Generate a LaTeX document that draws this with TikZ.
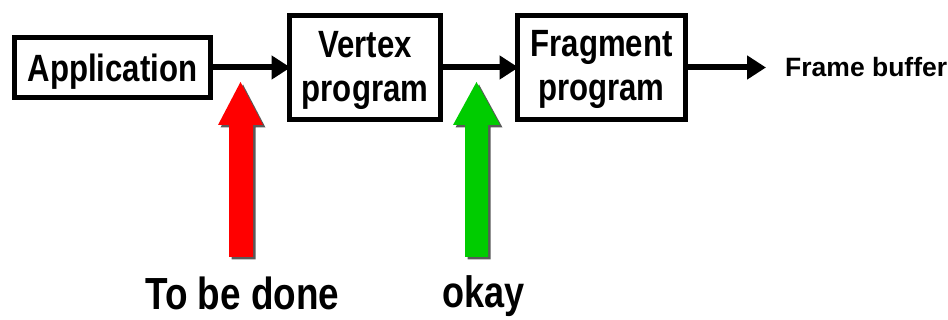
\documentclass[tikz,border=0pt]{standalone}
\usepackage{fontspec}
\setmainfont{Liberation Sans}[FakeStretch=0.82]
\newfontfamily\fbfont{Liberation Sans}
\usetikzlibrary{arrows.meta}
\definecolor{okgreen}{RGB}{0,204,0}
\tikzset{
  box/.style={draw=black, line width=5pt, fill=white, inner sep=0pt, outer sep=0pt},
  boxtext/.style={anchor=base, inner sep=0pt, font=\fontsize{38}{44}\selectfont\bfseries},
  conn/.style={line width=6pt, -{Triangle[length=19pt,width=23pt]}, shorten >=-1pt},
  bigtext/.style={anchor=base west, inner sep=0pt},
  shadowcol/.style={fill=black!65, draw=none},
}
\begin{document}
\begin{tikzpicture}[x=1pt,y=-1pt]
\useasboundingbox (0,0) rectangle (948,320);
% boxes
\node[box, minimum width=196pt, minimum height=60pt] (app) at (112.5,67.5) {};
\node[box, minimum width=151pt, minimum height=104pt] (vtx) at (365,67.5) {};
\node[box, minimum width=168pt, minimum height=104pt] (frag) at (601.5,67.5) {};
% box texts
\node[boxtext] (appt) at (112.5,82) {Application};
\node[boxtext] (vtx1) at (365,58) {Vertex};
\node[boxtext] (vtx2) at (365,102) {program};
\node[boxtext] (frag1) at (601.5,57) {Fragment};
\node[boxtext] (frag2) at (601.5,101) {program};
% frame buffer
\node[anchor=base west, inner sep=0pt, font=\fbfont\fontsize{26.5}{30}\selectfont\bfseries] (fb) at (785,77) {Frame buffer};
\coordinate (fbin) at (765,67.5);
% connectors
\draw[conn] (app.east) -- (vtx.west);
\draw[conn] (vtx.east) -- (frag.west);
\draw[conn] (frag.east) -- (fbin);
% big arrows with shadows
\begin{scope}[shift={(2.5,2.5)}]
\fill[shadowcol] (229,257) -- (229,125) -- (218,125) -- (240.5,82) -- (263,125) -- (253,125) -- (253,257) -- cycle;
\fill[shadowcol] (465,257) -- (465,125) -- (453,125) -- (476.5,82) -- (500,125) -- (488,125) -- (488,257) -- cycle;
\end{scope}
\fill[red] (229,257) -- (229,125) -- (218,125) -- (240.5,82) -- (263,125) -- (253,125) -- (253,257) -- cycle;
\fill[okgreen] (465,257) -- (465,125) -- (453,125) -- (476.5,82) -- (500,125) -- (488,125) -- (488,257) -- cycle;
% labels
\node[bigtext, font=\fontsize{45}{50}\selectfont\bfseries] (todo) at (145,310) {To be done};
\node[bigtext, font=\fontsize{44}{50}\selectfont\bfseries] (okay) at (442,308) {okay};
\end{tikzpicture}
\end{document}
